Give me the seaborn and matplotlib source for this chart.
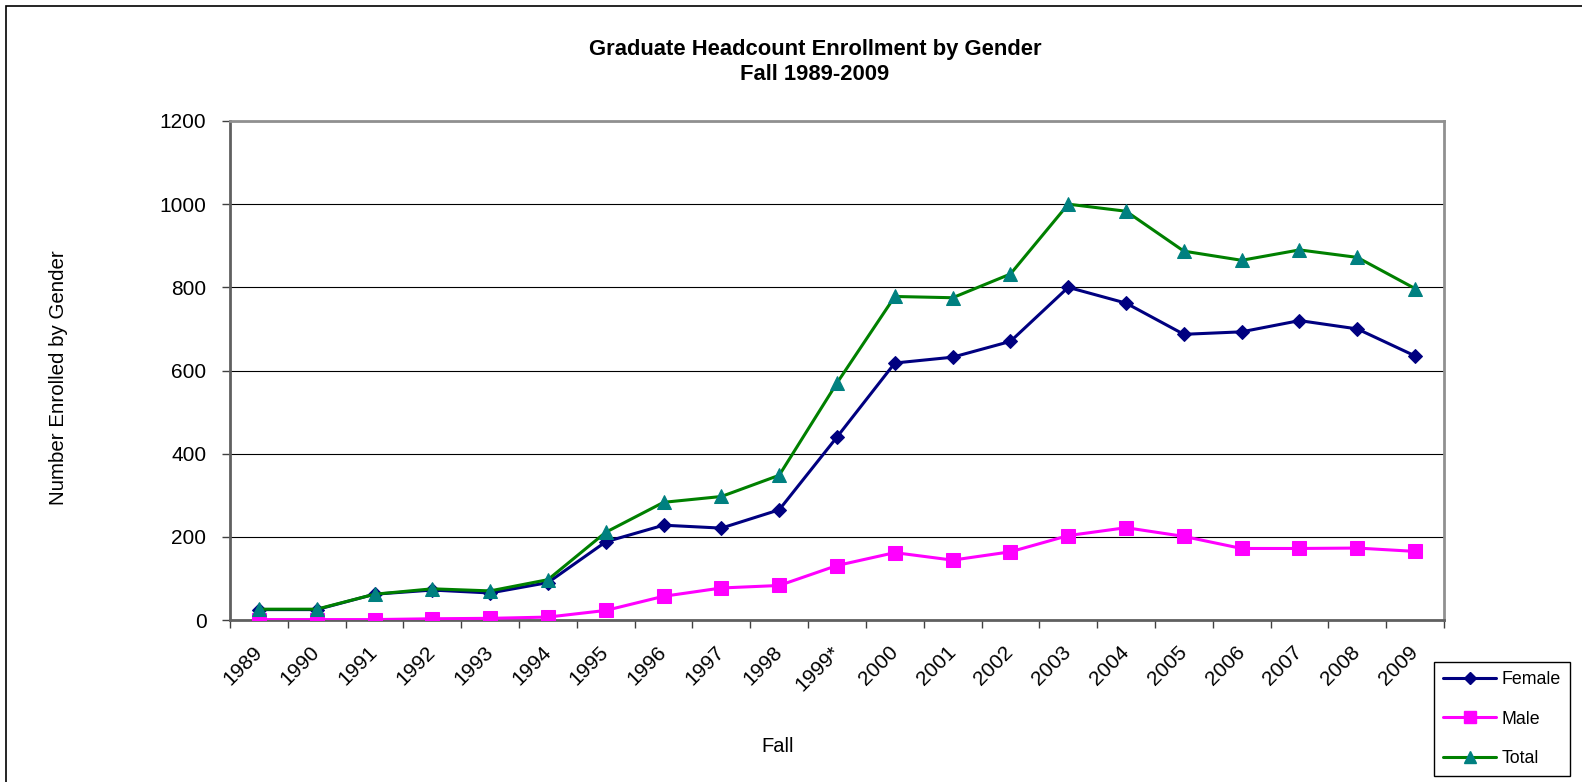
import matplotlib
matplotlib.use("Agg")
import matplotlib.pyplot as plt
import matplotlib.patches as mpatches
from matplotlib.lines import Line2D
from matplotlib.ticker import FixedLocator, MultipleLocator
import seaborn as sns
import pandas as pd
import numpy as np

years = ["1989", "1990", "1991", "1992", "1993", "1994", "1995", "1996", "1997", "1998",
         "1999*", "2000", "2001", "2002", "2003", "2004", "2005", "2006", "2007", "2008", "2009"]
female = [25, 25, 62, 72, 65, 90, 188, 228, 221, 265, 440, 618, 632, 670, 800, 762, 687, 693, 720, 700, 635]
male = [1, 1, 1, 3, 4, 7, 23, 57, 77, 83, 131, 162, 144, 164, 203, 222, 201, 172, 172, 173, 165]
total = [26, 26, 62, 75, 70, 97, 211, 283, 297, 348, 570, 778, 775, 832, 1000, 983, 887, 865, 890, 872, 797]

sns.set_theme(style="white")
plt.rcParams["font.family"] = ["Liberation Sans", "DejaVu Sans"]
plt.rcParams.update({"text.color": "black", "axes.labelcolor": "black",
                     "xtick.color": "black", "ytick.color": "black"})

W, H = 1582, 782
fig = plt.figure(figsize=(W / 100, H / 100), dpi=100)
L, R, T, B = 230, 1444, 121, 620
ax = fig.add_axes([L / W, 1 - B / H, (R - L) / W, (B - T) / H])

pos = np.arange(len(years))
df = pd.DataFrame({"pos": pos, "Female": female, "Male": male, "Total": total})

styles = {
    "Female": dict(color="#000080", marker="D", markersize=7.5, mfc="#000080", mec="#000080"),
    "Male": dict(color="#FF00FF", marker="s", markersize=10.5, mfc="#FF00FF", mec="#FF00FF"),
    "Total": dict(color="#008000", marker="^", markersize=10, mfc="#008080", mec="#008080"),
}
for name in ["Female", "Male", "Total"]:
    st = styles[name]
    sns.lineplot(data=df, x="pos", y=name, ax=ax, color=st["color"], marker=st["marker"],
                 markersize=st["markersize"], markerfacecolor=st["mfc"],
                 markeredgecolor=st["mec"], linewidth=2.2, zorder=3, label=None)

ax.set_xlim(-0.5, len(years) - 0.5)
ax.set_ylim(0, 1200)
ax.yaxis.set_major_locator(MultipleLocator(200))
ax.grid(axis="y", color="black", linewidth=0.8)
ax.grid(axis="x", visible=False)
ax.set_axisbelow(True)

ax.set_xticks(pos)
ax.set_xticklabels(years, rotation=45, ha="right", rotation_mode="anchor", va="center")
ax.xaxis.set_minor_locator(FixedLocator(np.arange(-0.5, len(years), 1.0)))
ax.tick_params(axis="x", which="major", length=0, pad=21, labelsize=15, labelcolor="black")
ax.tick_params(axis="x", which="minor", length=6, width=1, color="#404040", bottom=True, direction="out")
ax.tick_params(axis="y", which="major", length=6, width=1, color="#404040", left=True,
               direction="out", pad=11, labelsize=15, labelcolor="black")

for s in ["left", "bottom"]:
    ax.spines[s].set_color("#606060")
    ax.spines[s].set_linewidth(2)
for s in ["top", "right"]:
    ax.spines[s].set_color("#909090")
    ax.spines[s].set_linewidth(2)

ax.set_xlabel("Fall", fontsize=14.5, color="black")
ax.set_ylabel("Number Enrolled by Gender", fontsize=14.8, color="black")
ax.xaxis.set_label_coords((778 - L) / (R - L), (B - 737) / (B - T))
ax.yaxis.set_label_coords((68 - L) / (R - L), (B - 378) / (B - T))

fig.text(815 / W, 1 - 62 / H, "Graduate Headcount Enrollment by Gender\nFall 1989-2009",
         ha="center", va="center", fontsize=15.8, fontweight="bold", linespacing=1.2,
         color="black")

handles = [Line2D([], [], color=styles[n]["color"], marker=styles[n]["marker"],
                  markersize=styles[n]["markersize"] * 0.85, markerfacecolor=styles[n]["mfc"],
                  markeredgecolor=styles[n]["mec"], linewidth=2.2) for n in ["Female", "Male", "Total"]]
leg = fig.legend(handles, ["Female", "Male", "Total"], loc="upper left",
                 bbox_to_anchor=(1434 / W, 1 - 662 / H), bbox_transform=fig.transFigure,
                 borderaxespad=0, fontsize=12.8, frameon=True, fancybox=False,
                 edgecolor="black", framealpha=1, labelspacing=1.28, handlelength=3.0,
                 handletextpad=0.3, borderpad=0.5)
leg.get_frame().set_linewidth(1)
for t in leg.get_texts():
    t.set_color("black")

# outer chart border (left and top visible, rest cropped)
fig.patches.append(mpatches.Rectangle((6 / W, -0.1), 1.2, 1 - 6 / H + 0.1,
                                      transform=fig.transFigure, fill=False,
                                      edgecolor="black", linewidth=1.2, zorder=0))

fig.savefig("out.png", dpi=100)
